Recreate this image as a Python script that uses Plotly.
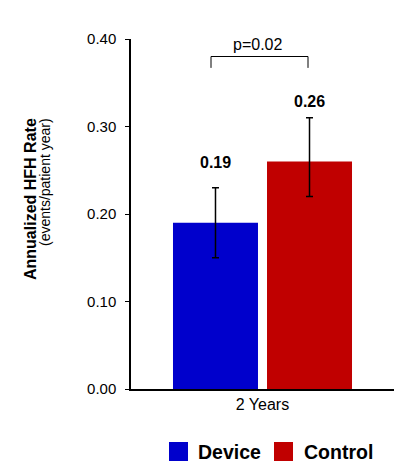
import plotly.graph_objects as go

# Data
category = ["2 Years"]
groups = ["Device", "Control"]
rates = [0.19, 0.26]
ci_low = [0.15, 0.22]
ci_high = [0.23, 0.31]
colors = ["#0000CC", "#C00000"]
p_label = "p=0.02"
y_ticks = [0.0, 0.1, 0.2, 0.3, 0.4]
y_tick_text = ["0.00", "0.10", "0.20", "0.30", "0.40"]

W, H = 395, 466
ML, MR, MT, MB = 131, 1, 39, 77
PW, PH = W - ML - MR, H - MT - MB


def px_x(px):
    return (px - ML) / PW


def px_y(py):
    return (H - MB - py) / PH


FONT = "Arial, Liberation Sans, sans-serif"

fig = go.Figure()
for name, v, lo, hi, c in zip(groups, rates, ci_low, ci_high, colors):
    fig.add_trace(go.Bar(
        x=category, y=[v], name=name, marker=dict(color=c, line=dict(width=0)),
        error_y=dict(type="data", symmetric=False, array=[hi - v], arrayminus=[v - lo],
                     color="black", thickness=1.5, width=3.5),
        showlegend=False,
    ))

annotations = []
shapes = []

# value labels above each bar
offsets = [-0.18, 0.18]
for v, off in zip(rates, offsets):
    annotations.append(dict(
        x=0.5 + off, xref="paper", y=v + 0.069, yref="y",
        text=f"<b>{v:.2f}</b>", showarrow=False,
        font=dict(family=FONT, size=16, color="black"),
        xanchor="center", yanchor="middle",
    ))

# significance bracket
bx0, bx1 = px_x(211), px_x(308)
shapes.append(dict(type="path", xref="paper", yref="y",
                   path=f"M {bx0},0.367 L {bx0},0.380 L {bx1},0.380 L {bx1},0.367",
                   line=dict(color="black", width=1)))
annotations.append(dict(x=px_x(257), xref="paper", y=px_y(45), yref="paper", text=p_label,
                        showarrow=False, font=dict(family=FONT, size=16, color="black"),
                        xanchor="center", yanchor="middle"))

# y-axis title (two lines, ends aligned)
annotations.append(dict(x=px_x(30), xref="paper", y=px_y(116), yref="paper",
                        text="<b>Annualized HFH Rate</b>", textangle=-90, showarrow=False,
                        font=dict(family=FONT, size=16, color="black"),
                        xanchor="center", yanchor="top"))
annotations.append(dict(x=px_x(45), xref="paper", y=px_y(116), yref="paper",
                        text="(events/patient year)", textangle=-90, showarrow=False,
                        font=dict(family=FONT, size=14, color="black"),
                        xanchor="center", yanchor="top"))

# legend
legend_items = [(169, 196), (274, 302)]
for (sx, tx), name, c in zip(legend_items, groups, colors):
    shapes.append(dict(type="rect", xref="paper", yref="paper",
                       x0=px_x(sx), x1=px_x(sx + 19), y0=px_y(461), y1=px_y(442),
                       fillcolor=c, line=dict(width=0)))
    annotations.append(dict(x=px_x(tx), xref="paper", y=px_y(452), yref="paper",
                            text=f"<b>{name}</b>", showarrow=False,
                            font=dict(family=FONT, size=19.5, color="black"),
                            xanchor="left", yanchor="middle"))

fig.update_layout(
    width=W, height=H,
    margin=dict(l=ML, r=MR, t=MT, b=MB),
    paper_bgcolor="white", plot_bgcolor="white",
    barmode="group", bargap=0.285, bargroupgap=0.096,
    font=dict(family=FONT, size=15, color="black"),
    annotations=annotations, shapes=shapes,
    xaxis=dict(showline=True, linecolor="black", linewidth=1.5, ticks="",
               tickfont=dict(size=16), showgrid=False, zeroline=False),
    yaxis=dict(range=[0, 0.4], tickvals=y_ticks, ticktext=y_tick_text,
               showline=True, linecolor="black", linewidth=1.5, ticks="outside",
               ticklen=4, tickcolor="black", tickwidth=1.2, showgrid=False,
               zeroline=False, tickfont=dict(size=15), ticklabelstandoff=6),
)

fig.write_html("out.html")
